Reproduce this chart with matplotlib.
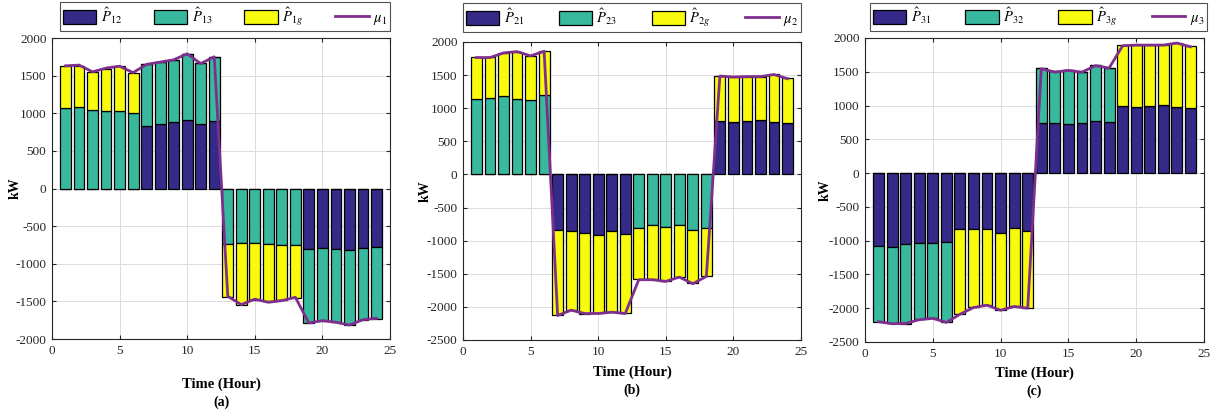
import numpy as np
import matplotlib
matplotlib.use('Agg')
import matplotlib.pyplot as plt

plt.rcParams['font.family'] = ['Liberation Serif', 'DejaVu Serif']
plt.rcParams['mathtext.fontset'] = 'stix'
plt.rcParams['axes.unicode_minus'] = False

hours = np.arange(1, 25)

# panel (a) - node 1
p12 = [0, 0, 0, 0, 0, 0, 834, 852, 883, 909, 856, 892,
       0, 0, 0, 0, 0, 0, -803, -785, -798, -812, -789, -781]
p13 = [1064, 1086, 1046, 1029, 1033, 1007, 817, 826, 821, 883, 808, 852,
       -732, -727, -723, -732, -750, -754, -984, -976, -976, -1002, -954, -949]
p1g = [561, 543, 504, 565, 596, 529, 0, 0, 0, 0, 0, 0,
       -714, -821, -754, -767, -736, -701, 0, 0, 0, 0, 0, 0]
mu1 = [1630, 1640, 1550, 1600, 1625, 1540, 1650, 1680, 1710, 1790, 1660, 1750,
       -1432, -1543, -1470, -1512, -1490, -1446, -1787, -1756, -1778, -1814, -1743, -1725]

# panel (b) - node 2
p21 = [0, 0, 0, 0, 0, 0, -837, -857, -882, -912, -857, -897,
       0, 0, 0, 0, 0, 0, 811, 796, 806, 826, 791, 776]
p23 = [1139, 1159, 1184, 1144, 1123, 1199, 0, 0, 0, 0, 0, 0,
       -807, -756, -797, -756, -832, -802, 0, 0, 0, 0, 0, 0]
p2g = [634, 614, 655, 705, 670, 660, -1287, -1197, -1222, -1187, -1222, -1202,
       -776, -822, -811, -797, -806, -731, 675, 675, 670, 650, 720, 675]
mu2 = [1765, 1765, 1835, 1855, 1790, 1860, -2130, -2050, -2100, -2100, -2080, -2100,
       -1590, -1590, -1615, -1550, -1650, -1540, 1486, 1471, 1478, 1478, 1508, 1446]

# panel (c) - node 3
p31 = [-1077, -1087, -1048, -1033, -1038, -1013, -827, -827, -827, -881, -812, -851,
       741, 736, 726, 736, 765, 760, 988, 978, 988, 1002, 978, 968]
p32 = [-1127, -1132, -1181, -1127, -1107, -1191, 0, 0, 0, 0, 0, 0,
       810, 770, 805, 765, 840, 800, 0, 0, 0, 0, 0, 0]
p3g = [0, 0, 0, 0, 0, 0, -1259, -1156, -1131, -1146, -1161, -1147,
       0, 0, 0, 0, 0, 0, 903, 918, 903, 889, 953, 908]
mu3 = [-2200, -2230, -2225, -2170, -2150, -2210, -2090, -1990, -1955, -2030, -1975, -2000,
       1545, 1495, 1520, 1495, 1590, 1555, 1885, 1895, 1895, 1895, 1925, 1870]

colors = ['#352a87', '#38b99e', '#f9fb0e']
line_col = '#7e2f8e'

panels = [
    dict(series=[p12, p13, p1g], mu=mu1,
         labels=[r'$\hat{P}_{12}$', r'$\hat{P}_{13}$', r'$\hat{P}_{1g}$', r'$\mu_1$'],
         ylim=(-2000, 2000), pos=[52, 38, 390, 339], leg=[60, 5, 390, 28],
         ylab_x=15, xlab_y=384, tag_y=402, tag='(a)'),
    dict(series=[p21, p23, p2g], mu=mu2,
         labels=[r'$\hat{P}_{21}$', r'$\hat{P}_{23}$', r'$\hat{P}_{2g}$', r'$\mu_2$'],
         ylim=(-2500, 2000), pos=[463, 42, 801, 340], leg=[463, 4, 801, 31],
         ylab_x=425, xlab_y=372, tag_y=390, tag='(b)'),
    dict(series=[p31, p32, p3g], mu=mu3,
         labels=[r'$\hat{P}_{31}$', r'$\hat{P}_{32}$', r'$\hat{P}_{3g}$', r'$\mu_3$'],
         ylim=(-2500, 2000), pos=[865, 38, 1204, 342], leg=[870, 4, 1207, 30],
         ylab_x=825, xlab_y=373, tag_y=391, tag='(c)'),
]

W, H = 1222, 413
fig = plt.figure(figsize=(W / 100, H / 100), dpi=100)

for p in panels:
    x0, y0, x1, y1 = p['pos']
    ax = fig.add_axes([x0 / W, 1 - y1 / H, (x1 - x0) / W, (y1 - y0) / H])
    pos_base = np.zeros(24)
    neg_base = np.zeros(24)
    handles = []
    for vals, c in zip(p['series'], colors):
        v = np.array(vals, dtype=float)
        bottom = np.where(v >= 0, pos_base, neg_base)
        b = ax.bar(hours, v, 0.8, bottom=bottom, color=c, edgecolor='black', linewidth=0.9)
        handles.append(b)
        pos_base += np.where(v > 0, v, 0)
        neg_base += np.where(v < 0, v, 0)
    ln, = ax.plot(hours, p['mu'], color=line_col, lw=2)
    handles.append(ln)

    ax.set_xlim(0, 25)
    ax.set_ylim(*p['ylim'])
    ax.set_xticks(range(0, 26, 5))
    ax.set_yticks(range(p['ylim'][0], p['ylim'][1] + 1, 500))
    ax.grid(True, color='#dcdcdc', lw=0.7)
    ax.set_axisbelow(True)
    ax.tick_params(direction='in', top=True, right=True, length=3, labelsize=9.5,
                   colors='#262626', pad=4)
    for s in ax.spines.values():
        s.set_color('#262626')
        s.set_linewidth(0.8)

    lx0, ly0, lx1, ly1 = p['leg']
    leg = ax.legend(handles, p['labels'], ncol=4, mode='expand', loc='center',
                    bbox_to_anchor=(lx0 / W, 1 - ly1 / H, (lx1 - lx0) / W, (ly1 - ly0) / H),
                    bbox_transform=fig.transFigure, fontsize=10.5, fancybox=False,
                    handlelength=2.3, handleheight=1.1, borderpad=0.2,
                    handletextpad=0.3, columnspacing=1.0, borderaxespad=0)
    leg.get_frame().set_edgecolor('#262626')
    leg.get_frame().set_linewidth(0.8)

    xc = (x0 + x1) / 2 / W
    fig.text(p['ylab_x'] / W, 1 - (y0 + y1) / 2 / H, 'kW', rotation=90, ha='center',
             va='center', fontsize=10, fontweight='bold')
    fig.text(xc, 1 - p['xlab_y'] / H, 'Time (Hour)', ha='center', va='center',
             fontsize=10.5, fontweight='bold')
    fig.text(xc, 1 - p['tag_y'] / H, p['tag'], ha='center', va='center',
             fontsize=10, fontweight='bold')

fig.savefig('out.png', dpi=100)
